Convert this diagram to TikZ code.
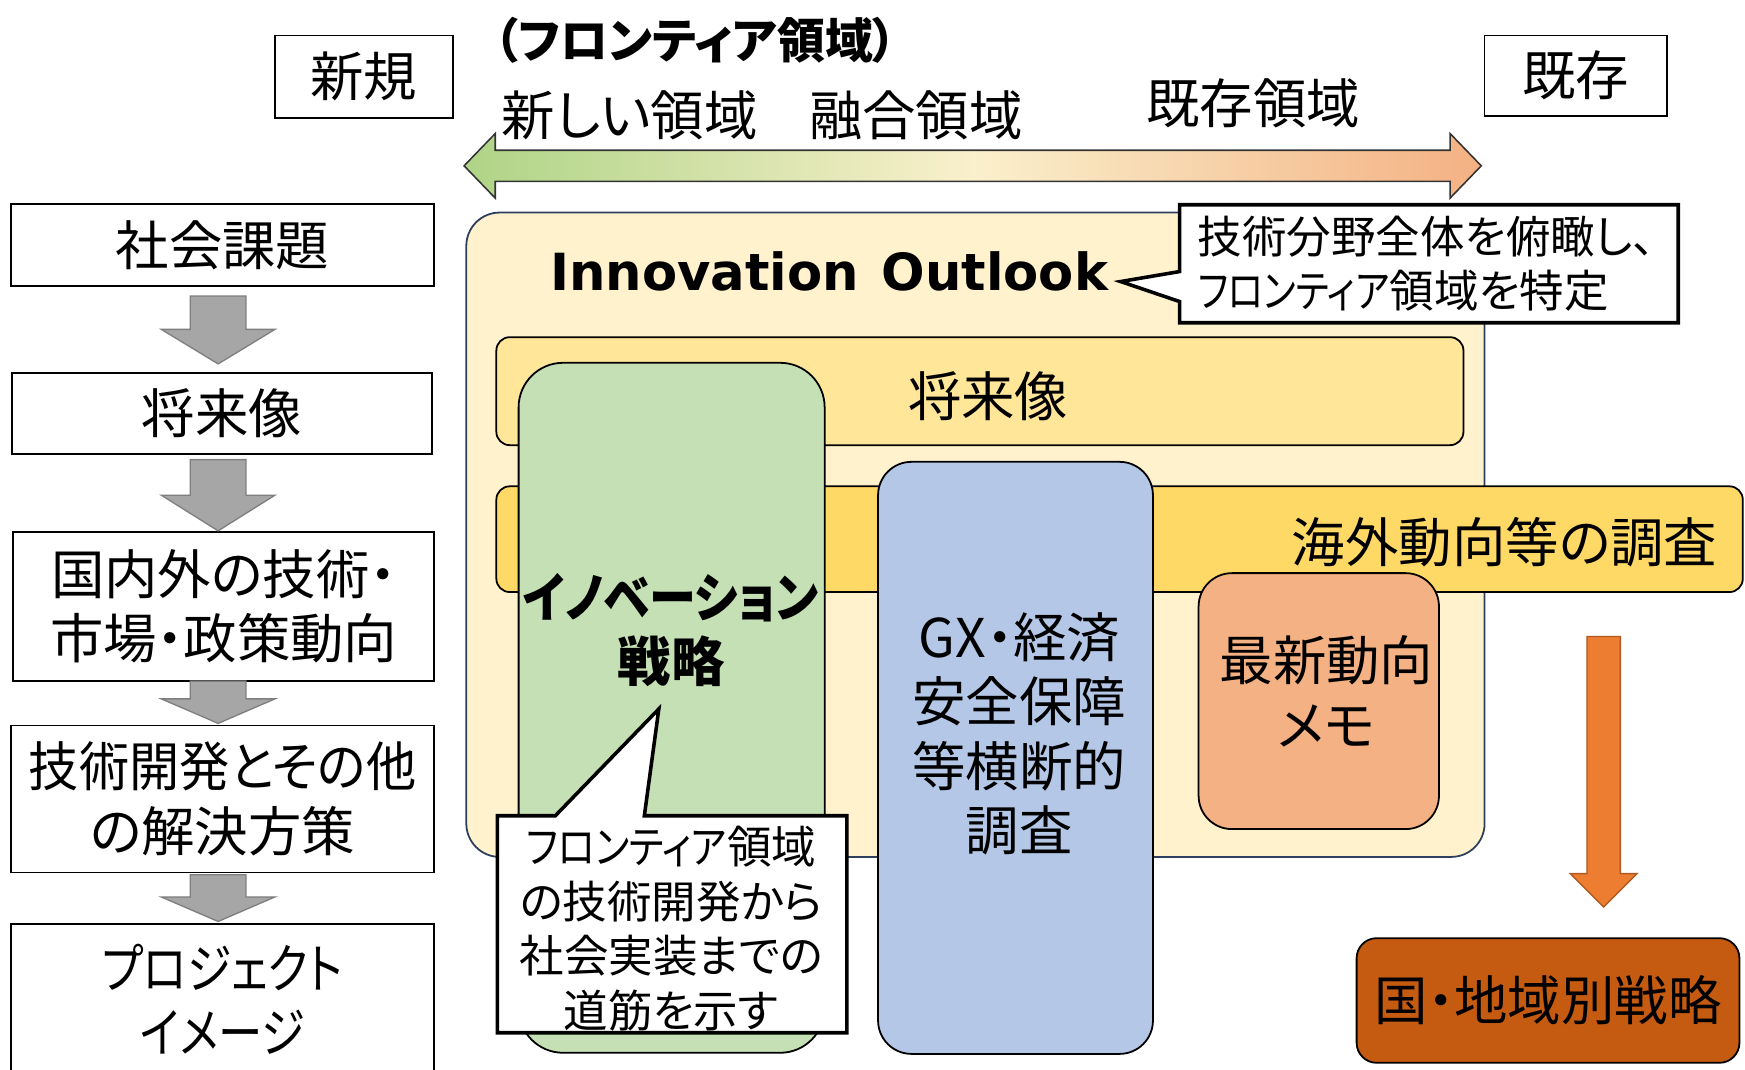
\documentclass[tikz,border=0pt]{standalone}
\usepackage{graphicx}
\usepackage{fontspec}
\setmainfont{Noto Sans CJK JP}[RawFeature=+palt]
\newfontfamily\dvs{DejaVu Sans}
\usetikzlibrary{calc}
\definecolor{cream}{HTML}{FFF2CC}
\definecolor{navy}{HTML}{2F3F60}
\definecolor{yelA}{HTML}{FFE699}
\definecolor{yelB}{HTML}{FFD966}
\definecolor{grn}{HTML}{C5E0B4}
\definecolor{blu}{HTML}{B4C7E7}
\definecolor{org}{HTML}{F4B183}
\definecolor{orgarrow}{HTML}{ED7D31}
\definecolor{orgline}{HTML}{AE5A21}
\definecolor{dorg}{HTML}{C55A11}
\definecolor{arrgray}{HTML}{A6A6A6}
\definecolor{arrgrayline}{HTML}{7F7F7F}
\definecolor{dgreen}{HTML}{AED486}
\definecolor{dmid}{HTML}{FAF0CC}
\definecolor{dorange}{HTML}{F4B183}
\newcommand\grayarr[3]{\draw[garrow] (171,#1) -- (221,#1) -- (221,#2) -- (247,#2) -- (196,#3) -- (145,#2) -- (171,#2) -- cycle;}
\newcommand\hsq[2]{\scalebox{#1}[1]{#2}}
\begin{document}
\begin{tikzpicture}[x=0.5pt,y=-0.5pt,
  jp/.style={inner sep=0pt, align=center, font=\fontsize{24}{29}\selectfont},
  jpsmall/.style={inner sep=0pt, align=center, font=\fontsize{20}{24.5}\selectfont},
  lbox/.style={draw=black, line width=0.8pt, fill=white, jp},
  rbox/.style={draw=black, line width=0.8pt, jp},
  garrow/.style={fill=arrgray, draw=arrgrayline, line width=0.6pt},
  callout/.style={draw=black, fill=white, line width=1.6pt, line join=miter}]
\useasboundingbox (0,0) rectangle (1568,961);
\fill[white] (0,0) rectangle (1568,961);

% left column
\node[lbox, minimum width=190pt, minimum height=37pt] (n1) at (200,220) {社会課題};
\node[lbox, minimum width=188.5pt, minimum height=36.5pt] (n2) at (199.5,371.5) {将来像};
\node[lbox, minimum width=189pt, minimum height=67pt] (n3) at (201,545) {国内外の技術・\\市場・政策動向};
\node[lbox, minimum width=190pt, minimum height=66pt] (n4) at (200,718) {\hsq{0.94}{技術開発とその他}\\の解決方策};
\node[lbox, minimum width=190pt, minimum height=68pt] (n5) at (200,898) {\hsq{0.84}{プロジェクト}\\\hsq{0.83}{イメージ}};
\grayarr{266}{296}{327}
\grayarr{413}{445}{477}
\grayarr{612}{628}{650}
\grayarr{786}{806}{828}

% top
\node[lbox, minimum width=80pt, minimum height=37pt] (shinki) at (327,69) {新規};
\node[lbox, minimum width=82pt, minimum height=36pt] (kison) at (1416,68) {既存};
\node[inner sep=0pt, font=\fontsize{21.5}{25}\bfseries] (front) at (625,36) {（フロンティア領域）};
\node[jp] (newr) at (566,104) {新しい領域};
\node[jp] (fusr) at (823,104) {融合領域};
\node[jp] (exr) at (1126,93) {既存領域};
\draw[draw=black!80, line width=0.7pt, left color=dgreen, right color=dorange, middle color=dmid]
  (417,149) -- (445,120) -- (445,135) -- (1303,135) -- (1303,120) -- (1331,149)
  -- (1303,178) -- (1303,163) -- (445,163) -- (445,178) -- cycle;

% Innovation Outlook container
\node[draw=navy, line width=0.8pt, fill=cream, rounded corners=15pt, minimum width=457.5pt, minimum height=289.5pt, inner sep=0pt] (io) at (876.5,480.5) {};
\node[inner sep=0pt, font=\dvs\bfseries\fontsize{23}{27}\selectfont] (iot) at (745,244) {Innovation\hspace{0.45em}Outlook};
\draw[callout] (1060,184) -- (1508,184) -- (1508,290) -- (1060,290) -- (1060,271) -- (1007,253) -- (1060,244) -- cycle;
\node[inner sep=0pt, anchor=west, align=left, font=\fontsize{20}{24}\selectfont] (oct) at (1076,237) {技術分野全体を俯瞰し、\\\hsq{0.82}{フロンティア}領域を特定};

% bands
\node[rbox, fill=yelA, rounded corners=6pt, minimum width=434.5pt, minimum height=48.5pt] (fut) at (880.5,351.5) {};
\node[jp] (futt) at (888,356) {将来像};
\node[rbox, fill=yelB, rounded corners=6pt, minimum width=560pt, minimum height=47.5pt] (kai) at (1006,484.5) {};
\node[jp] (kait) at (1352,487) {海外動向等の調査};

% green box
\node[rbox, fill=grn, rounded corners=20pt, minimum width=137.5pt, minimum height=310pt] (inv) at (603.5,636) {};
\node[jp, font=\fontsize{24}{29}\bfseries] (invt) at (603,566) {\hsq{0.88}{イノベーション}\\戦略};
\draw[callout] (447,733) -- (499,733) -- (592,637) -- (579,733) -- (761,733) -- (761,928) -- (447,928) -- cycle;
\node[jpsmall] (invc) at (603,834.5) {\hsq{0.86}{フロンティア}領域\\の技術開発から\\社会実装までの\\道筋を示す};

% blue box
\node[rbox, fill=blu, rounded corners=15pt, minimum width=123.5pt, minimum height=266pt] (gx) at (912.5,681) {};
\node[jp] (gxt) at (916,659.5) {GX・経済\\安全保障\\等横断的\\調査};

% orange box
\node[rbox, fill=org, rounded corners=15pt, minimum width=108pt, minimum height=115pt] (memo) at (1185,630) {};
\node[jp] (memot) at (1192,621) {最新動向\\メモ};

% orange arrow and result box
\node[rbox, fill=dorg, rounded corners=9pt, minimum width=172pt, minimum height=56pt] (geo) at (1391,899) {国・地域別戦略};
\draw[fill=orgarrow, draw=orgline, line width=0.6pt] (1426,572) -- (1456,572) -- (1456,785) -- (1471,785) -- (1441,815) -- (1411,785) -- (1426,785) -- cycle;
\end{tikzpicture}
\end{document}
